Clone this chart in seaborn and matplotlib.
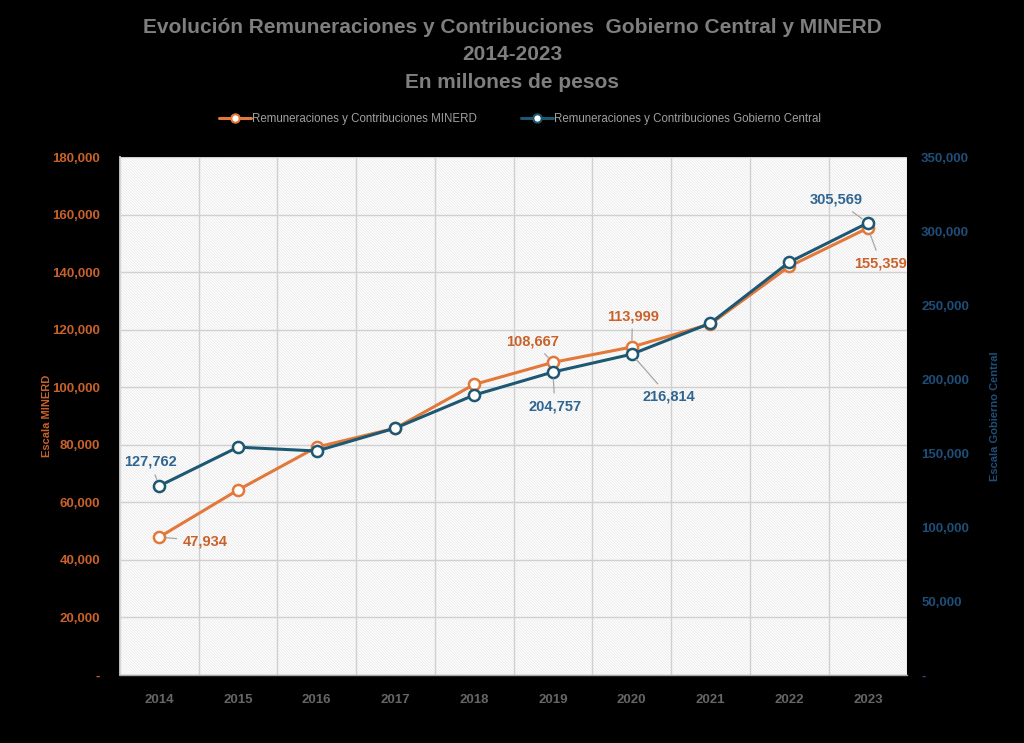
import numpy as np
import pandas as pd
import matplotlib
matplotlib.use("Agg")
import matplotlib.pyplot as plt
import seaborn as sns
from matplotlib.lines import Line2D
from matplotlib.ticker import FuncFormatter, MultipleLocator, FixedLocator

years = ["2014", "2015", "2016", "2017", "2018", "2019", "2020", "2021", "2022", "2023"]
minerd = [47934, 64300, 79200, 85800, 101000, 108667, 113999, 122000, 142000, 155359]
gobierno = [127762, 154000, 151400, 166900, 189200, 204757, 216814, 237800, 279000, 305569]

label_minerd = "Remuneraciones y Contribuciones MINERD"
label_gob = "Remuneraciones y Contribuciones Gobierno Central"
title = "Evolución Remuneraciones y Contribuciones  Gobierno Central y MINERD\n2014-2023\nEn millones de pesos"

# which points carry data labels
lab_minerd_idx = [0, 5, 6, 9]
lab_gob_idx = [0, 5, 6, 9]

df = pd.DataFrame({"year": years, "minerd": minerd, "gob": gobierno})

ORANGE = "#E2793A"
ORANGE_TXT = "#C9622A"
BLUE = "#1D5872"
BLUE_TXT = "#2F6591"
BLUE_AX = "#1F4E79"
GRAY = "#7F7F7F"

sns.set_theme(style="white")
plt.rcParams["font.family"] = ["Liberation Sans", "DejaVu Sans"]
plt.rcParams["hatch.linewidth"] = 0.5

fig = plt.figure(figsize=(10.24, 7.43), dpi=100, facecolor="black")
ax = fig.add_axes([0.117, 0.0915, 0.769, 0.697])
ax.set_facecolor("white")
ax.patch.set_hatch("\\" * 12)
ax.patch.set_edgecolor("#e6e6e6")
ax.patch.set_linewidth(0)

ax2 = ax.twinx()

mk = dict(marker="o", markersize=8, markerfacecolor="white", markeredgewidth=1.8)
sns.lineplot(data=df, x="year", y="minerd", ax=ax, color=ORANGE, linewidth=2.2,
             markeredgecolor=ORANGE, sort=False, zorder=3, **mk)
sns.lineplot(data=df, x="year", y="gob", ax=ax2, color=BLUE, linewidth=2.2,
             markeredgecolor=BLUE, sort=False, zorder=3, **mk)

for a in (ax, ax2):
    a.set_xlim(-0.5, len(years) - 0.5)
    a.set_xlabel("")
ax.set_ylim(0, 180000)
ax2.set_ylim(0, 350000)
ax.yaxis.set_major_locator(MultipleLocator(20000))
ax2.yaxis.set_major_locator(MultipleLocator(50000))

fmt = FuncFormatter(lambda v, p: "-" if v == 0 else f"{int(v):,}")
ax.yaxis.set_major_formatter(fmt)
ax2.yaxis.set_major_formatter(fmt)

ax.tick_params(axis="y", colors=ORANGE_TXT, labelsize=9.5, length=0, pad=14)
ax2.tick_params(axis="y", colors=BLUE_AX, labelsize=9.5, length=0, pad=10)
for t in ax.get_yticklabels():
    t.set_fontweight("bold")
for t in ax2.get_yticklabels():
    t.set_fontweight("bold")

ax.set_xticks(range(len(years)))
ax.set_xticklabels(years)
ax.xaxis.set_minor_locator(FixedLocator(np.arange(-0.5, len(years), 1.0)))
ax.tick_params(axis="x", which="major", length=0, colors="#666666", labelsize=9.5, pad=14)
ax.tick_params(axis="x", which="minor", length=5, color="#a6a6a6", width=0.8, direction="out")
for t in ax.get_xticklabels():
    t.set_fontweight("bold")
ax2.tick_params(axis="x", length=0)

ax.grid(True, axis="y", which="major", color="#d0d0d0", linewidth=1.0)
ax.grid(True, axis="x", which="minor", color="#d0d0d0", linewidth=1.0)
ax.grid(False, axis="x", which="major")
ax2.grid(False)
ax.set_axisbelow(True)

for a in (ax, ax2):
    for s in a.spines.values():
        s.set_visible(False)
ax.spines["bottom"].set_visible(True)
ax.spines["bottom"].set_color("#a6a6a6")
ax.spines["bottom"].set_linewidth(1.0)
ax.spines["left"].set_visible(True)
ax.spines["left"].set_color("#d9d9d9")

ax.set_ylabel("Escala MINERD", color=ORANGE_TXT, fontsize=8, fontweight="bold", labelpad=0)
ax2.set_ylabel("Escala Gobierno Central", color=BLUE_AX, fontsize=8, fontweight="bold", labelpad=15)

# data labels (offsets in pixels)
off_minerd = {0: (46, -4), 5: (-20, 21), 6: (1, 31), 9: (13, -35)}
off_gob = {0: (-9, 24), 5: (2, -34), 6: (37, -42), 9: (-32, 23)}
arrow = dict(arrowstyle="-", color="#a6a6a6", lw=0.9, shrinkA=2, shrinkB=5)
for i in lab_minerd_idx:
    ax.annotate(f"{minerd[i]:,}", xy=(i, minerd[i]), xytext=off_minerd[i],
                textcoords="offset pixels", ha="center", va="center",
                color=ORANGE_TXT, fontsize=10.5, fontweight="bold",
                arrowprops=arrow, zorder=5)
for i in lab_gob_idx:
    ax2.annotate(f"{gobierno[i]:,}", xy=(i, gobierno[i]), xytext=off_gob[i],
                 textcoords="offset pixels", ha="center", va="center",
                 color=BLUE_TXT, fontsize=10.5, fontweight="bold",
                 arrowprops=arrow, zorder=5)

fig.text(0.5, 0.926, title, ha="center", va="center", color=GRAY, fontsize=15,
         fontweight="bold", linespacing=1.55)

handles = [
    Line2D([], [], color=ORANGE, lw=2.2, marker="o", markersize=6, markerfacecolor="white",
           markeredgecolor=ORANGE, markeredgewidth=1.5),
    Line2D([], [], color=BLUE, lw=2.2, marker="o", markersize=6, markerfacecolor="white",
           markeredgecolor=BLUE, markeredgewidth=1.5),
]
leg = fig.legend(handles, [label_minerd, label_gob], loc="center", bbox_to_anchor=(0.508, 0.84),
                 ncol=2, frameon=False, handlelength=2.8, handletextpad=0.1,
                 columnspacing=3.8, labelcolor="#a0a0a0",
                 prop={"family": ["Liberation Sans", "DejaVu Sans"], "size": 8.3})

fig.savefig("out.png", dpi=100, facecolor="black")
